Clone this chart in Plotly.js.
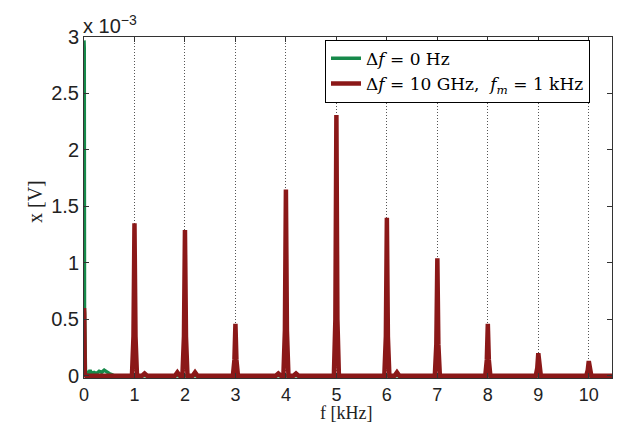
<!DOCTYPE html>
<html>
<head>
<meta charset="utf-8">
<script src="https://cdn.plot.ly/plotly-3.0.1.min.js"></script>
<style>html,body{margin:0;padding:0;background:#fff;}#chart{width:619px;height:424px;}</style>
</head>
<body>
<div id="chart"></div>
<script>
// Frequency in kHz, amplitude in units of 1e-3 V
const greenX = [0, 0.005, 0.01, 0.03, 0.06, 0.09, 0.12, 0.15, 0.2, 0.25, 0.3, 0.35, 0.4, 0.45, 0.5, 0.55, 0.6, 10.46];
const greenY = [2.97, 2.9, 0.6, 0.02, 0.04, 0.01, 0.05, 0.02, 0.03, 0.02, 0.04, 0.03, 0.05, 0.03, 0.02, 0.01, 0.0, 0.0];

const redX = [0, 0.005, 0.015, 0.04,
  0.95, 0.98, 1.0, 1.02, 1.05, 1.15, 1.2, 1.25,
  1.8, 1.85, 1.9, 1.95, 1.98, 2.0, 2.02, 2.05, 2.15, 2.2, 2.25,
  2.95, 2.98, 3.0, 3.02, 3.05,
  3.8, 3.85, 3.9, 3.95, 3.98, 4.0, 4.02, 4.05, 4.15, 4.2, 4.25,
  4.95, 4.98, 5.0, 5.02, 5.05,
  5.95, 5.98, 6.0, 6.02, 6.05, 6.15, 6.2, 6.25,
  6.95, 6.98, 7.0, 7.02, 7.05,
  7.95, 7.98, 8.0, 8.02, 8.05,
  8.95, 8.98, 9.0, 9.02, 9.05,
  9.95, 9.98, 10.0, 10.02, 10.05, 10.46];
const redY = [0.6, 0.55, 0.02, 0.0,
  0.0, 0.35, 1.35, 0.35, 0.0, 0.0, 0.02, 0.0,
  0.0, 0.03, 0.0, 0.0, 0.35, 1.29, 0.35, 0.0, 0.0, 0.03, 0.0,
  0.0, 0.14, 0.46, 0.14, 0.0,
  0.0, 0.02, 0.0, 0.0, 0.4, 1.65, 0.4, 0.0, 0.0, 0.02, 0.0,
  0.0, 0.5, 2.31, 0.5, 0.0,
  0.0, 0.35, 1.4, 0.35, 0.0, 0.0, 0.03, 0.0,
  0.0, 0.28, 1.04, 0.28, 0.0,
  0.0, 0.14, 0.46, 0.14, 0.0,
  0.0, 0.07, 0.2, 0.07, 0.0,
  0.0, 0.05, 0.13, 0.05, 0.0, 0.0];

const xTicks = [0, 1, 2, 3, 4, 5, 6, 7, 8, 9, 10];
const yTicks = [0, 0.5, 1, 1.5, 2, 2.5, 3];
const yTickText = ["0", "0.5", "1", "1.5", "2", "2.5", "3"];
const seriesNames = ["Δ<i>f</i> = 0 Hz", "Δ<i>f</i> = 10 GHz,  <i>f</i><sub><i>m</i></sub> = 1 kHz"];

const traces = [
  {x: greenX, y: greenY, mode: 'lines', name: seriesNames[0],
   line: {color: '#16894a', width: 3.5}},
  {x: redX, y: redY, mode: 'lines', name: seriesNames[1],
   line: {color: '#8b1818', width: 4.5}}
];

const sans = 'Liberation Sans, Arial, Helvetica, sans-serif';
const serif = 'Liberation Serif, Times New Roman, serif';

const layout = {
  width: 619, height: 424,
  margin: {l: 84, r: 7, t: 37, b: 46, pad: 0},
  paper_bgcolor: '#fff', plot_bgcolor: '#fff',
  showlegend: true,
  legend: {
    x: (325 - 84) / 528, y: 0.992, xanchor: 'left', yanchor: 'top',
    bgcolor: '#fff', bordercolor: '#000', borderwidth: 1,
    font: {family: 'DejaVu Serif, serif', size: 17, color: '#000'},
    tracegroupgap: 0, itemwidth: 30
  },
  xaxis: {
    range: [0, 10.46], tickvals: xTicks, ticktext: xTicks.map(String),
    ticks: 'inside', ticklen: 5, tickcolor: '#333',
    showline: true, linecolor: '#333', linewidth: 1, mirror: 'ticks',
    showgrid: true, gridcolor: '#555', griddash: '1px,2px', gridwidth: 1,
    zeroline: false,
    tickfont: {family: sans, size: 18, color: '#222'}
  },
  yaxis: {
    range: [-0.02, 3], tickvals: yTicks, ticktext: yTickText,
    ticks: 'inside', ticklen: 5, tickcolor: '#333',
    showline: true, linecolor: '#333', linewidth: 1, mirror: 'ticks',
    showgrid: false, zeroline: false,
    tickfont: {family: sans, size: 20, color: '#222'}
  },
  annotations: [
    {text: 'x 10<sup>−3</sup>', xref: 'paper', yref: 'paper', x: 0.0, y: 1.0,
     xanchor: 'left', yanchor: 'bottom', showarrow: false, xshift: -3, yshift: -2,
     font: {family: sans, size: 20, color: '#222'}},
    {text: 'f [kHz]', xref: 'paper', yref: 'paper', x: (346 - 84) / 528, y: 0,
     xanchor: 'center', yanchor: 'middle', yshift: -35, showarrow: false,
     font: {family: serif, size: 18, color: '#222'}},
    {text: 'x [V]', xref: 'paper', yref: 'paper', x: 0, y: (378 - 202) / 341,
     xanchor: 'center', yanchor: 'middle', xshift: -49, textangle: -90, showarrow: false,
     font: {family: serif, size: 20, color: '#222'}}
  ]
};

Plotly.newPlot('chart', traces, layout, {displayModeBar: false, staticPlot: true});
</script>
</body>
</html>
